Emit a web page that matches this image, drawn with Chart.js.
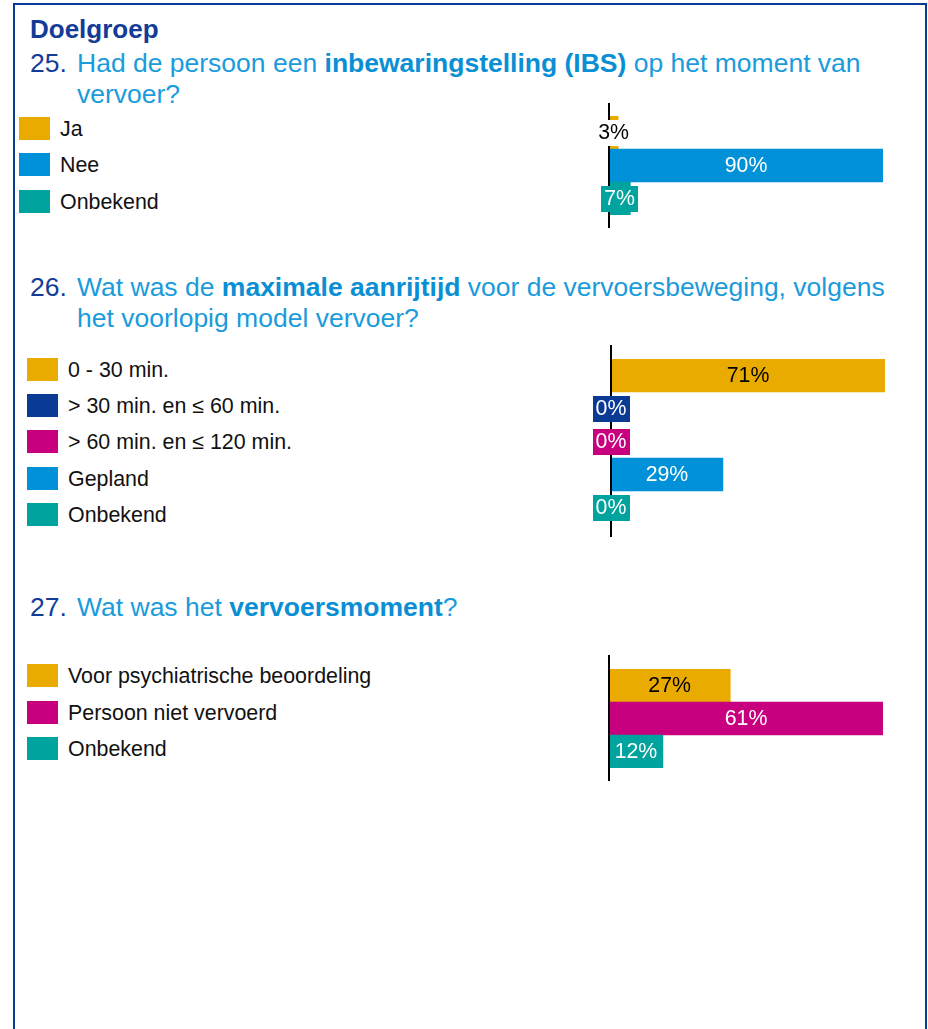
<!DOCTYPE html>
<html lang="nl">
<head>
<meta charset="utf-8">
<title>Doelgroep</title>
<script src="https://cdn.jsdelivr.net/npm/chart.js@4/dist/chart.umd.min.js"></script>
<style>
  html, body { margin: 0; padding: 0; background: #fff; }
  body { width: 928px; height: 1029px; position: relative; overflow: hidden;
         font-family: "Liberation Sans", Arial, Helvetica, sans-serif; }
  .frame { position: absolute; left: 13px; top: 3px; width: 910px; height: 1040px;
           border: 2px solid #0b3a95; border-bottom: none; }
  .head { position: absolute; left: 30px; top: 14px; font-size: 26px; font-weight: bold;
          color: #133c97; line-height: 30px; }
  .qnum { position: absolute; left: 30px; font-size: 26.5px; color: #133c97; line-height: 30.5px; }
  .qtext { position: absolute; left: 77px; font-size: 26.5px; color: #1a9bdc; line-height: 30.5px;
           white-space: nowrap; }
  .qtext b { font-weight: bold; color: #0a8fd4; }
  .legend { position: absolute; }
  .legend .row { position: absolute; left: 0; height: 23px; white-space: nowrap; }
  .legend .sw { position: absolute; left: 0; top: 0; width: 31px; height: 23px; }
  .legend .lbl { position: absolute; top: 0; font-size: 21.4px; line-height: 25px; color: #111; }
  .chartbox { position: absolute; width: 330px; }
</style>
</head>
<body>
<div class="frame"></div>
<div class="head">Doelgroep</div>

<div class="qnum" style="top:48px">25.</div>
<div class="qtext" style="top:48px">Had de persoon een <b>inbewaringstelling (IBS)</b> op het moment van<br>vervoer?</div>

<div class="qnum" style="top:272px">26.</div>
<div class="qtext" style="top:272px">Wat was de <b>maximale aanrijtijd</b> voor de vervoersbeweging, volgens<br>het voorlopig model vervoer?</div>

<div class="qnum" style="top:592px">27.</div>
<div class="qtext" style="top:592px">Wat was het <b>vervoersmoment</b>?</div>

<div id="legend25" class="legend" style="left:19px; top:117px"></div>
<div id="legend26" class="legend" style="left:27px; top:358px"></div>
<div id="legend27" class="legend" style="left:27px; top:664px"></div>

<div class="chartbox" style="left:580px; top:103px; height:125px"><canvas id="c25"></canvas></div>
<div class="chartbox" style="left:582px; top:345px; height:192px"><canvas id="c26"></canvas></div>
<div class="chartbox" style="left:580px; top:655px; height:126px"><canvas id="c27"></canvas></div>

<script>
// Palette
const ORANGE = '#eaab00';
const BLUE = '#0091d8';
const NAVY = '#0b3a95';
const MAGENTA = '#c8007f';
const TEAL = '#00a39d';

// 25. Inbewaringstelling (IBS) op het moment van vervoer
const categories25 = ['Ja', 'Nee', 'Onbekend'];
const values25 = [3, 90, 7];
const colors25 = [ORANGE, BLUE, TEAL];

// 26. Maximale aanrijtijd volgens het voorlopig model vervoer
const categories26 = ['0 - 30 min.', '> 30 min. en \u2264 60 min.', '> 60 min. en \u2264 120 min.', 'Gepland', 'Onbekend'];
const values26 = [71, 0, 0, 29, 0];
const colors26 = [ORANGE, NAVY, MAGENTA, BLUE, TEAL];

// 27. Vervoersmoment
const categories27 = ['Voor psychiatrische beoordeling', 'Persoon niet vervoerd', 'Onbekend'];
const values27 = [27, 61, 12];
const colors27 = [ORANGE, MAGENTA, TEAL];

const FONT = '"Liberation Sans", Arial, Helvetica, sans-serif';

function buildLegend(id, labels, colors, rowTops, textLeft) {
  const host = document.getElementById(id);
  labels.forEach((lab, i) => {
    const row = document.createElement('div');
    row.className = 'row';
    row.style.top = rowTops[i] + 'px';
    const sw = document.createElement('div');
    sw.className = 'sw';
    sw.style.background = colors[i];
    const tx = document.createElement('div');
    tx.className = 'lbl';
    tx.style.left = textLeft + 'px';
    tx.textContent = lab;
    row.appendChild(sw);
    row.appendChild(tx);
    host.appendChild(row);
  });
}

buildLegend('legend25', categories25, colors25, [0, 36, 73], 41);
buildLegend('legend26', categories26, colors26, [0, 36, 72, 109, 145], 41);
buildLegend('legend27', categories27, colors27, [0, 37, 73], 41);

// Vertical baseline through the bars plus the percentage labels
const barDecor = {
  id: 'barDecor',
  afterDatasetsDraw(chart) {
    const { ctx, chartArea } = chart;
    ctx.save();
    ctx.strokeStyle = '#000';
    ctx.lineWidth = 2;
    ctx.beginPath();
    ctx.moveTo(chartArea.left, 0);
    ctx.lineTo(chartArea.left, chart.height);
    ctx.stroke();

    const ds = chart.data.datasets[0];
    const meta = chart.getDatasetMeta(0);
    ctx.font = '21.3px ' + FONT;
    ctx.textAlign = 'center';
    ctx.textBaseline = 'middle';
    meta.data.forEach((bar, i) => {
      const v = ds.data[i];
      const txt = v + '%';
      const color = ds.backgroundColor[i];
      const dark = color === ORANGE;
      const x0 = Math.min(bar.base, bar.x);
      const x1 = Math.max(bar.base, bar.x);
      const cx = (x0 + x1) / 2;
      const cy = bar.y + 1;
      const tw = ctx.measureText(txt).width;
      if (tw + 4 > x1 - x0) {
        const bw = tw + 6, bh = 26;
        ctx.fillStyle = dark ? '#fff' : color;
        ctx.fillRect(Math.round(cx - bw / 2), Math.round(bar.y - bh / 2), Math.round(bw), bh);
      }
      ctx.fillStyle = dark ? '#000' : '#fff';
      ctx.fillText(txt, cx, cy);
    });
    ctx.restore();
  }
};

function makeChart(id, labels, values, colors, padTop) {
  new Chart(document.getElementById(id), {
    type: 'bar',
    data: {
      labels: labels,
      datasets: [{
        data: values,
        backgroundColor: colors,
        borderWidth: 0,
        barPercentage: 1,
        categoryPercentage: 1
      }]
    },
    options: {
      indexAxis: 'y',
      responsive: true,
      maintainAspectRatio: false,
      animation: false,
      layout: { padding: { left: 29, right: 27, top: padTop, bottom: 13 } },
      plugins: { legend: { display: false }, tooltip: { enabled: false } },
      scales: {
        x: { display: false, min: 0, max: Math.max(...values) },
        y: { display: false }
      }
    },
    plugins: [barDecor]
  });
}

makeChart('c25', categories25, values25, colors25, 13);
makeChart('c26', categories26, values26, colors26, 14);
makeChart('c27', categories27, values27, colors27, 14);
</script>
</body>
</html>
